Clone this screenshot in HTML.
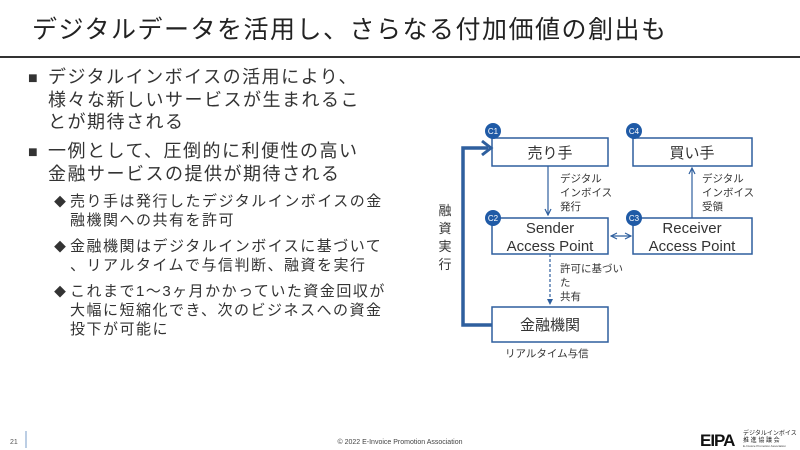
<!DOCTYPE html>
<html><head><meta charset="utf-8"><style>
body{margin:0;width:800px;height:450px;background:#fff;position:relative;overflow:hidden;font-family:"Liberation Sans","Noto Sans CJK JP",sans-serif;color:#222}
.a{position:absolute;white-space:nowrap}
.title{left:32px;top:10px;font-size:25px;letter-spacing:1.5px;color:#222}
.hr{left:0;top:56px;width:800px;height:2px;background:#333}
.b1{font-size:18px;letter-spacing:1.5px;line-height:22.5px;color:#333}
.b2{font-size:15px;letter-spacing:1.5px;line-height:19px;color:#333}
</style></head><body>
<div class="a title">デジタルデータを活用し、さらなる付加価値の創出も</div>
<div class="a hr"></div>
<div class="a b1" style="left:28px;top:66px"><span style="font-size:16px">■</span></div>
<div class="a b1" style="left:48px;top:66px">デジタルインボイスの活用により、<br>様々な新しいサービスが生まれるこ<br>とが期待される</div>
<div class="a b1" style="left:28px;top:140px"><span style="font-size:16px">■</span></div>
<div class="a b1" style="left:48px;top:140px">一例として、圧倒的に利便性の高い<br>金融サービスの提供が期待される</div>
<div class="a b2" style="left:54px;top:193px;font-size:12px">◆</div>
<div class="a b2" style="left:70px;top:192px">売り手は発行したデジタルインボイスの金<br>融機関への共有を許可</div>
<div class="a b2" style="left:54px;top:238px;font-size:12px">◆</div>
<div class="a b2" style="left:70px;top:237px">金融機関はデジタルインボイスに基づいて<br>、リアルタイムで与信判断、融資を実行</div>
<div class="a b2" style="left:54px;top:283px;font-size:12px">◆</div>
<div class="a b2" style="left:70px;top:282px">これまで1〜3ヶ月かかっていた資金回収が<br>大幅に短縮化でき、次のビジネスへの資金<br>投下が可能に</div>

<svg class="a" style="left:0;top:0" width="800" height="450" font-family="Liberation Sans,Noto Sans CJK JP,sans-serif">
<defs><marker id="ar" markerWidth="8" markerHeight="8" refX="7" refY="4" orient="auto-start-reverse" markerUnits="userSpaceOnUse"><path d="M1,1 L7,4 L1,7" fill="none" stroke="#2e5f9e" stroke-width="1.2"/></marker>
<marker id="ad" markerWidth="6" markerHeight="6" refX="5" refY="3" orient="auto" markerUnits="userSpaceOnUse"><path d="M0,0 L6,3 L0,6z" fill="#2e5f9e"/></marker></defs>
<g fill="#fff" stroke="#2e5f9e" stroke-width="1.5">
<rect x="492" y="138" width="116" height="28"/>
<rect x="633" y="138" width="119" height="28"/>
<rect x="492" y="218" width="116" height="36"/>
<rect x="633" y="218" width="119" height="36"/>
<rect x="492" y="307" width="116" height="35"/>
</g>
<g font-size="15" fill="#333" text-anchor="middle">
<text x="550" y="158">売り手</text>
<text x="692" y="158">買い手</text>
<text x="550" y="233">Sender</text><text x="550" y="251">Access Point</text>
<text x="692" y="233">Receiver</text><text x="692" y="251">Access Point</text>
<text x="550" y="330">金融機関</text>
</g>
<path d="M548,166 V215" stroke="#2e5f9e" stroke-width="1.2" marker-end="url(#ar)"/>
<path d="M692,218 V168" stroke="#2e5f9e" stroke-width="1.2" marker-end="url(#ar)"/>
<path d="M611,236 H631" stroke="#2e5f9e" stroke-width="1.2" marker-end="url(#ar)" marker-start="url(#ar)"/>
<path d="M550,254 V304" stroke="#2e5f9e" stroke-width="1.2" stroke-dasharray="3,2" marker-end="url(#ad)"/>
<path d="M492,325 H463 V148 H488" fill="none" stroke="#2e5f9e" stroke-width="3.5"/>
<path d="M482,141 L491,148 L482,155" fill="none" stroke="#2e5f9e" stroke-width="3"/>
<g font-size="10.5" fill="#333">
<text x="560" y="182">デジタル</text><text x="560" y="196">インボイス</text><text x="560" y="210">発行</text>
<text x="702" y="182">デジタル</text><text x="702" y="196">インボイス</text><text x="702" y="210">受領</text>
<text x="560" y="272">許可に基づい</text><text x="560" y="286">た</text><text x="560" y="300">共有</text>
<text x="505" y="357">リアルタイム与信</text>
</g>
<g font-size="13" fill="#333" text-anchor="middle">
<text x="445" y="215">融</text><text x="445" y="233">資</text><text x="445" y="251">実</text><text x="445" y="269">行</text>
</g>
<g fill="#1f5aa6"><circle cx="493" cy="131" r="8"/><circle cx="634" cy="131" r="8"/><circle cx="493" cy="218" r="8"/><circle cx="634" cy="218" r="8"/></g>
<g font-size="8" fill="#fff" text-anchor="middle"><text x="493" y="134">C1</text><text x="634" y="134">C4</text><text x="493" y="221">C2</text><text x="634" y="221">C3</text></g>
<text x="10" y="444" font-size="7" fill="#555">21</text>
<line x1="26" y1="431" x2="26" y2="448" stroke="#7a9cc8" stroke-width="1"/>
<text x="400" y="444" font-size="7" fill="#444" text-anchor="middle">© 2022 E-Invoice Promotion Association</text>
<text x="700" y="446" font-size="17" font-weight="bold" fill="#111" letter-spacing="-1">EIPA</text>
<text x="743" y="435" font-size="6" fill="#222">デジタルインボイス</text>
<text x="743" y="442" font-size="6" fill="#222">推 進 協 議 会</text>
<text x="743" y="447" font-size="3" fill="#444">E-Invoice Promotion Association</text>
</svg>
</body></html>
